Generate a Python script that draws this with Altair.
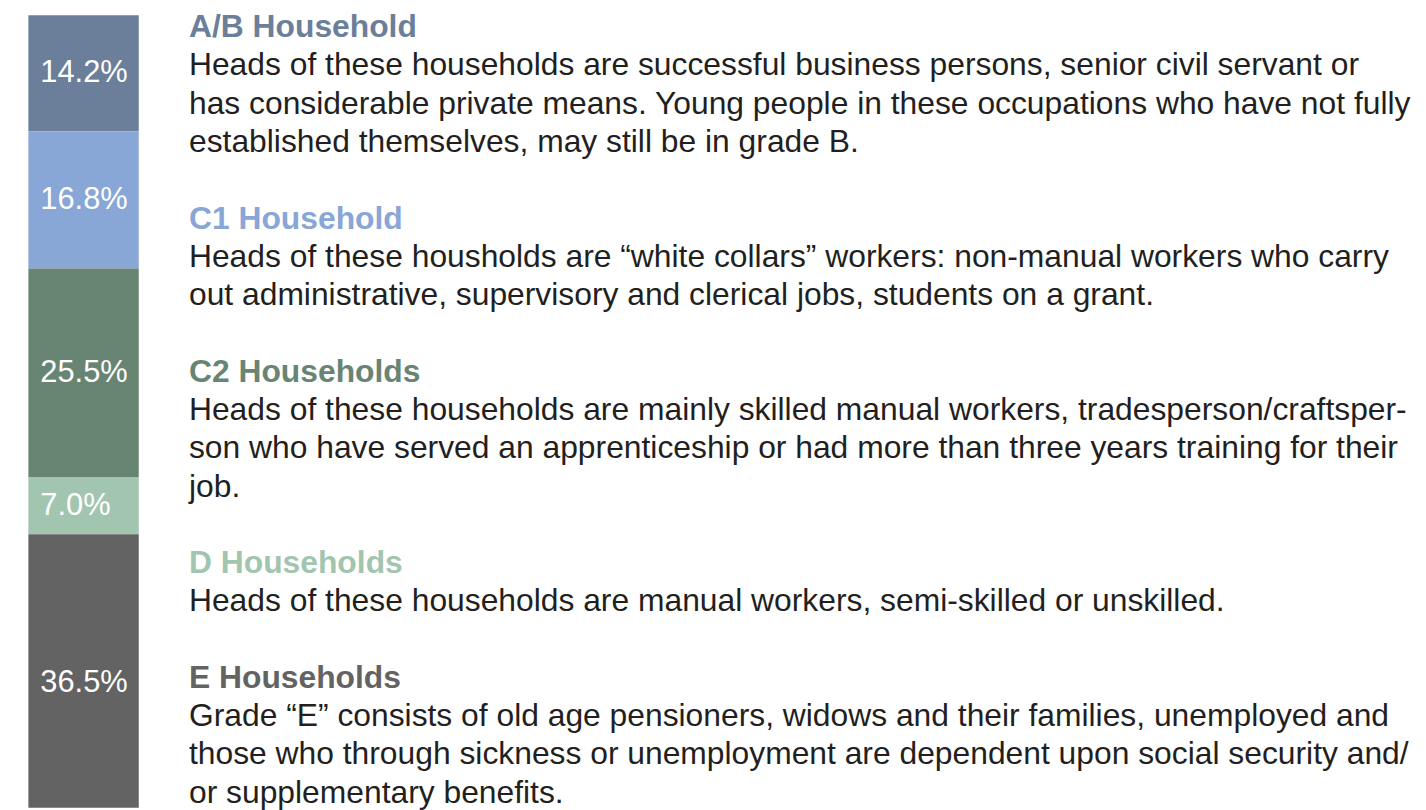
import altair as alt
import pandas as pd

# ---- data ----
grades = ["A/B", "C1", "C2", "D", "E"]
shares = [14.2, 16.8, 25.5, 7.0, 36.5]
share_labels = ["14.2%", "16.8%", "25.5%", "7.0%", "36.5%"]
colors = ["#6b7f9b", "#88a6d6", "#688473", "#a2c5b0", "#636363"]

headings = ["A/B Household", "C1 Household", "C2 Households", "D Households", "E Households"]
descriptions = [
    ["Heads of these households are successful business persons, senior civil servant or",
     "has considerable private means. Young people in these occupations who have not fully",
     "established themselves, may still be in grade B."],
    ["Heads of these housholds are \u201cwhite collars\u201d workers: non-manual workers who carry",
     "out administrative, supervisory and clerical jobs, students on a grant."],
    ["Heads of these households are mainly skilled manual workers, tradesperson/craftsper-",
     "son who have served an apprenticeship or had more than three years training for their",
     "job."],
    ["Heads of these households are manual workers, semi-skilled or unskilled."],
    ["Grade \u201cE\u201d consists of old age pensioners, widows and their families, unemployed and",
     "those who through sickness or unemployment are dependent upon social security and/",
     "or supplementary benefits."],
]

# ---- tables ----
bars = pd.DataFrame({"grade": grades, "share": shares, "label": share_labels,
                     "order": list(range(len(grades)))})

rows = []
line = 0
for i, (h, desc) in enumerate(zip(headings, descriptions)):
    rows.append({"text": h, "line": line, "kind": "head", "grade": grades[i]})
    line += 1
    for d in desc:
        rows.append({"text": d, "line": line, "kind": "body", "grade": grades[i]})
        line += 1
    line += 1
texts = pd.DataFrame(rows)
n_lines = line - 2

FONT = "Liberation Sans"
color_scale = alt.Scale(domain=grades, range=colors)
yscale = alt.Scale(domain=[0, 100], range=[5, 827])

base = alt.Chart(bars).transform_window(
    end="sum(share)", sort=[alt.SortField("order")], frame=[None, 0]
).transform_calculate(
    start="datum.end - datum.share",
    mid="datum.end - datum.share / 2",
)

bar = base.mark_bar(clip=True, stroke=None).encode(
    x=alt.value(20.5), x2=alt.value(131.5),
    y=alt.Y("start:Q", scale=yscale, axis=None),
    y2="end:Q",
    color=alt.Color("grade:N", scale=color_scale, legend=None),
)

pct = base.mark_text(align="left", baseline="middle", font=FONT, fontSize=31,
                     fontWeight=300, color="white").encode(
    x=alt.value(32.5),
    y=alt.Y("mid:Q", scale=yscale, axis=None),
    text="label:N",
)

bars_layer = alt.layer(bar, pct)

lscale = alt.Scale(domain=[0, n_lines], range=[27, 27 + 38.5 * n_lines])

head = alt.Chart(texts).transform_filter("datum.kind == 'head'").mark_text(
    align="left", baseline="alphabetic", font=FONT, fontSize=32, fontWeight="bold"
).encode(
    x=alt.value(182),
    y=alt.Y("line:Q", scale=lscale, axis=None),
    text="text:N",
    color=alt.Color("grade:N", scale=color_scale, legend=None),
)

body = alt.Chart(texts).transform_filter("datum.kind == 'body'").mark_text(
    align="left", baseline="alphabetic", font=FONT, fontSize=32, color="#231f20"
).encode(
    x=alt.value(182),
    y=alt.Y("line:Q", scale=lscale, axis=None),
    text="text:N",
)

text_layer = alt.layer(head, body)

chart = alt.layer(bars_layer, text_layer).resolve_scale(y="independent").properties(
    width=1418, height=802, padding=0, autosize=alt.AutoSizeParams(type="none")
).configure_view(stroke=None)

chart.save("out.html", embed_options={"renderer": "svg", "actions": False})
